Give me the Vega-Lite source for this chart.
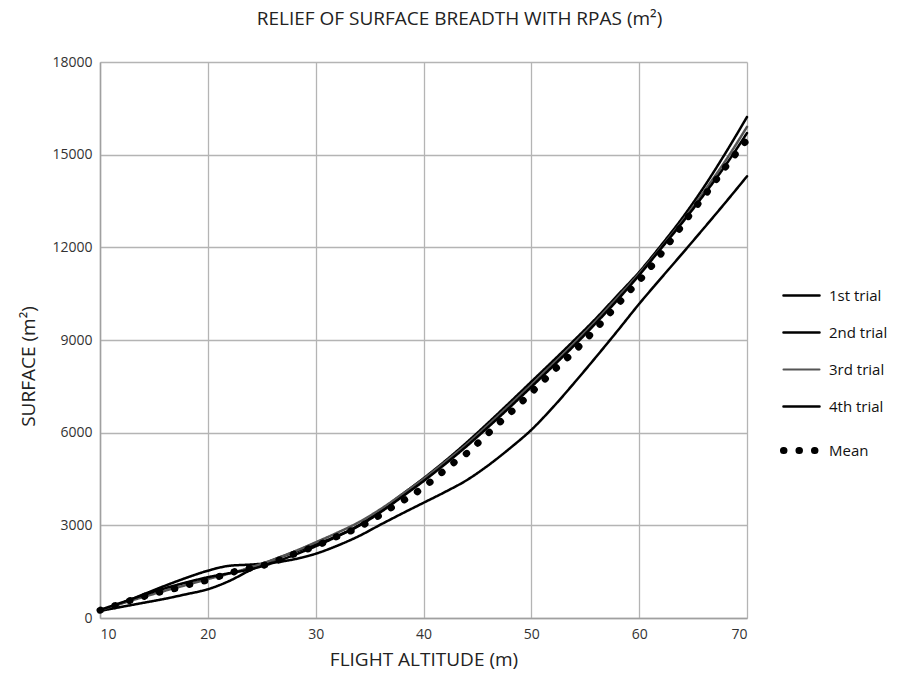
{
  "$schema": "https://vega.github.io/schema/vega-lite/v6.json",
  "width": 647,
  "height": 556,
  "autosize": {"type": "none"},
  "padding": {"left": 100, "top": 62, "right": 155, "bottom": 64},
  "background": "white",
  "title": {
    "text": "RELIEF OF SURFACE BREADTH WITH RPAS (m²)",
    "font": "Open Sans",
    "fontSize": 19,
    "fontWeight": "normal",
    "color": "#222",
    "anchor": "middle",
    "dx": 36,
    "offset": 26
  },
  "config": {
    "view": {"stroke": null},
    "axis": {
      "domainColor": "#a0a0a0",
      "domainWidth": 1.5,
      "gridColor": "#b4b4b4",
      "gridWidth": 1.3,
      "ticks": false,
      "labelFont": "Open Sans",
      "labelFontSize": 14,
      "labelColor": "#333",
      "titleFont": "Open Sans",
      "titleFontSize": 19,
      "titleFontWeight": "normal",
      "titleColor": "#222"
    }
  },
  "datasets": {
    "trials": [
      {"x": 10, "value": 250, "series": "1st trial"},
      {"x": 12, "value": 480, "series": "1st trial"},
      {"x": 14, "value": 760, "series": "1st trial"},
      {"x": 16, "value": 1040, "series": "1st trial"},
      {"x": 18, "value": 1300, "series": "1st trial"},
      {"x": 20, "value": 1530, "series": "1st trial"},
      {"x": 22, "value": 1690, "series": "1st trial"},
      {"x": 24, "value": 1730, "series": "1st trial"},
      {"x": 26, "value": 1790, "series": "1st trial"},
      {"x": 28, "value": 1900, "series": "1st trial"},
      {"x": 30, "value": 2080, "series": "1st trial"},
      {"x": 32, "value": 2340, "series": "1st trial"},
      {"x": 34, "value": 2650, "series": "1st trial"},
      {"x": 36, "value": 3020, "series": "1st trial"},
      {"x": 38, "value": 3380, "series": "1st trial"},
      {"x": 40, "value": 3730, "series": "1st trial"},
      {"x": 42, "value": 4080, "series": "1st trial"},
      {"x": 44, "value": 4460, "series": "1st trial"},
      {"x": 46, "value": 4940, "series": "1st trial"},
      {"x": 48, "value": 5490, "series": "1st trial"},
      {"x": 50, "value": 6090, "series": "1st trial"},
      {"x": 52, "value": 6820, "series": "1st trial"},
      {"x": 54, "value": 7620, "series": "1st trial"},
      {"x": 56, "value": 8450, "series": "1st trial"},
      {"x": 58, "value": 9300, "series": "1st trial"},
      {"x": 60, "value": 10170, "series": "1st trial"},
      {"x": 62, "value": 10990, "series": "1st trial"},
      {"x": 64, "value": 11800, "series": "1st trial"},
      {"x": 66, "value": 12620, "series": "1st trial"},
      {"x": 68, "value": 13450, "series": "1st trial"},
      {"x": 70, "value": 14300, "series": "1st trial"},

      {"x": 10, "value": 230, "series": "2nd trial"},
      {"x": 12, "value": 360, "series": "2nd trial"},
      {"x": 14, "value": 490, "series": "2nd trial"},
      {"x": 16, "value": 620, "series": "2nd trial"},
      {"x": 18, "value": 770, "series": "2nd trial"},
      {"x": 20, "value": 930, "series": "2nd trial"},
      {"x": 22, "value": 1200, "series": "2nd trial"},
      {"x": 24, "value": 1560, "series": "2nd trial"},
      {"x": 26, "value": 1870, "series": "2nd trial"},
      {"x": 28, "value": 2130, "series": "2nd trial"},
      {"x": 30, "value": 2380, "series": "2nd trial"},
      {"x": 32, "value": 2660, "series": "2nd trial"},
      {"x": 34, "value": 3000, "series": "2nd trial"},
      {"x": 36, "value": 3480, "series": "2nd trial"},
      {"x": 38, "value": 4000, "series": "2nd trial"},
      {"x": 40, "value": 4520, "series": "2nd trial"},
      {"x": 42, "value": 5080, "series": "2nd trial"},
      {"x": 44, "value": 5680, "series": "2nd trial"},
      {"x": 46, "value": 6320, "series": "2nd trial"},
      {"x": 48, "value": 6980, "series": "2nd trial"},
      {"x": 50, "value": 7650, "series": "2nd trial"},
      {"x": 52, "value": 8320, "series": "2nd trial"},
      {"x": 54, "value": 9000, "series": "2nd trial"},
      {"x": 56, "value": 9700, "series": "2nd trial"},
      {"x": 58, "value": 10450, "series": "2nd trial"},
      {"x": 60, "value": 11200, "series": "2nd trial"},
      {"x": 62, "value": 12050, "series": "2nd trial"},
      {"x": 64, "value": 12950, "series": "2nd trial"},
      {"x": 66, "value": 13950, "series": "2nd trial"},
      {"x": 68, "value": 15050, "series": "2nd trial"},
      {"x": 70, "value": 16220, "series": "2nd trial"},

      {"x": 10, "value": 260, "series": "3rd trial"},
      {"x": 12, "value": 470, "series": "3rd trial"},
      {"x": 14, "value": 680, "series": "3rd trial"},
      {"x": 16, "value": 880, "series": "3rd trial"},
      {"x": 18, "value": 1070, "series": "3rd trial"},
      {"x": 20, "value": 1260, "series": "3rd trial"},
      {"x": 22, "value": 1440, "series": "3rd trial"},
      {"x": 24, "value": 1640, "series": "3rd trial"},
      {"x": 26, "value": 1880, "series": "3rd trial"},
      {"x": 28, "value": 2150, "series": "3rd trial"},
      {"x": 30, "value": 2450, "series": "3rd trial"},
      {"x": 32, "value": 2760, "series": "3rd trial"},
      {"x": 34, "value": 3100, "series": "3rd trial"},
      {"x": 36, "value": 3520, "series": "3rd trial"},
      {"x": 38, "value": 4000, "series": "3rd trial"},
      {"x": 40, "value": 4500, "series": "3rd trial"},
      {"x": 42, "value": 5050, "series": "3rd trial"},
      {"x": 44, "value": 5620, "series": "3rd trial"},
      {"x": 46, "value": 6250, "series": "3rd trial"},
      {"x": 48, "value": 6900, "series": "3rd trial"},
      {"x": 50, "value": 7550, "series": "3rd trial"},
      {"x": 52, "value": 8220, "series": "3rd trial"},
      {"x": 54, "value": 8900, "series": "3rd trial"},
      {"x": 56, "value": 9620, "series": "3rd trial"},
      {"x": 58, "value": 10380, "series": "3rd trial"},
      {"x": 60, "value": 11150, "series": "3rd trial"},
      {"x": 62, "value": 11980, "series": "3rd trial"},
      {"x": 64, "value": 12850, "series": "3rd trial"},
      {"x": 66, "value": 13800, "series": "3rd trial"},
      {"x": 68, "value": 14800, "series": "3rd trial"},
      {"x": 70, "value": 15900, "series": "3rd trial"},

      {"x": 10, "value": 260, "series": "4th trial"},
      {"x": 12, "value": 500, "series": "4th trial"},
      {"x": 14, "value": 740, "series": "4th trial"},
      {"x": 16, "value": 960, "series": "4th trial"},
      {"x": 18, "value": 1150, "series": "4th trial"},
      {"x": 20, "value": 1320, "series": "4th trial"},
      {"x": 22, "value": 1450, "series": "4th trial"},
      {"x": 24, "value": 1580, "series": "4th trial"},
      {"x": 26, "value": 1780, "series": "4th trial"},
      {"x": 28, "value": 2040, "series": "4th trial"},
      {"x": 30, "value": 2320, "series": "4th trial"},
      {"x": 32, "value": 2640, "series": "4th trial"},
      {"x": 34, "value": 2980, "series": "4th trial"},
      {"x": 36, "value": 3420, "series": "4th trial"},
      {"x": 38, "value": 3920, "series": "4th trial"},
      {"x": 40, "value": 4430, "series": "4th trial"},
      {"x": 42, "value": 4980, "series": "4th trial"},
      {"x": 44, "value": 5560, "series": "4th trial"},
      {"x": 46, "value": 6180, "series": "4th trial"},
      {"x": 48, "value": 6820, "series": "4th trial"},
      {"x": 50, "value": 7480, "series": "4th trial"},
      {"x": 52, "value": 8150, "series": "4th trial"},
      {"x": 54, "value": 8830, "series": "4th trial"},
      {"x": 56, "value": 9550, "series": "4th trial"},
      {"x": 58, "value": 10300, "series": "4th trial"},
      {"x": 60, "value": 11100, "series": "4th trial"},
      {"x": 62, "value": 11950, "series": "4th trial"},
      {"x": 64, "value": 12800, "series": "4th trial"},
      {"x": 66, "value": 13700, "series": "4th trial"},
      {"x": 68, "value": 14650, "series": "4th trial"},
      {"x": 70, "value": 15700, "series": "4th trial"}
    ],
    "mean": [
      {"x": 10, "value": 250, "series": "Mean"},
      {"x": 11, "value": 360, "series": "Mean"},
      {"x": 12, "value": 470, "series": "Mean"},
      {"x": 13, "value": 590, "series": "Mean"},
      {"x": 14, "value": 690, "series": "Mean"},
      {"x": 15, "value": 790, "series": "Mean"},
      {"x": 16, "value": 880, "series": "Mean"},
      {"x": 17, "value": 960, "series": "Mean"},
      {"x": 18, "value": 1060, "series": "Mean"},
      {"x": 19, "value": 1150, "series": "Mean"},
      {"x": 20, "value": 1230, "series": "Mean"},
      {"x": 21, "value": 1340, "series": "Mean"},
      {"x": 22, "value": 1450, "series": "Mean"},
      {"x": 23, "value": 1550, "series": "Mean"},
      {"x": 24, "value": 1620, "series": "Mean"},
      {"x": 25, "value": 1690, "series": "Mean"},
      {"x": 26, "value": 1800, "series": "Mean"},
      {"x": 27, "value": 1930, "series": "Mean"},
      {"x": 28, "value": 2070, "series": "Mean"},
      {"x": 29, "value": 2200, "series": "Mean"},
      {"x": 30, "value": 2320, "series": "Mean"},
      {"x": 31, "value": 2480, "series": "Mean"},
      {"x": 32, "value": 2640, "series": "Mean"},
      {"x": 33, "value": 2780, "series": "Mean"},
      {"x": 34, "value": 2940, "series": "Mean"},
      {"x": 35, "value": 3130, "series": "Mean"},
      {"x": 36, "value": 3340, "series": "Mean"},
      {"x": 37, "value": 3570, "series": "Mean"},
      {"x": 38, "value": 3780, "series": "Mean"},
      {"x": 39, "value": 3970, "series": "Mean"},
      {"x": 40, "value": 4250, "series": "Mean"},
      {"x": 41, "value": 4500, "series": "Mean"},
      {"x": 42, "value": 4800, "series": "Mean"},
      {"x": 43, "value": 5080, "series": "Mean"},
      {"x": 44, "value": 5330, "series": "Mean"},
      {"x": 45, "value": 5650, "series": "Mean"},
      {"x": 46, "value": 5980, "series": "Mean"},
      {"x": 47, "value": 6310, "series": "Mean"},
      {"x": 48, "value": 6630, "series": "Mean"},
      {"x": 49, "value": 6960, "series": "Mean"},
      {"x": 50, "value": 7300, "series": "Mean"},
      {"x": 51, "value": 7640, "series": "Mean"},
      {"x": 52, "value": 7990, "series": "Mean"},
      {"x": 53, "value": 8310, "series": "Mean"},
      {"x": 54, "value": 8640, "series": "Mean"},
      {"x": 55, "value": 9000, "series": "Mean"},
      {"x": 56, "value": 9370, "series": "Mean"},
      {"x": 57, "value": 9760, "series": "Mean"},
      {"x": 58, "value": 10150, "series": "Mean"},
      {"x": 59, "value": 10550, "series": "Mean"},
      {"x": 60, "value": 10920, "series": "Mean"},
      {"x": 61, "value": 11330, "series": "Mean"},
      {"x": 62, "value": 11780, "series": "Mean"},
      {"x": 63, "value": 12250, "series": "Mean"},
      {"x": 64, "value": 12720, "series": "Mean"},
      {"x": 65, "value": 13200, "series": "Mean"},
      {"x": 66, "value": 13650, "series": "Mean"},
      {"x": 67, "value": 14120, "series": "Mean"},
      {"x": 68, "value": 14600, "series": "Mean"},
      {"x": 69, "value": 15050, "series": "Mean"},
      {"x": 70, "value": 15480, "series": "Mean"}
    ]
  },
  "encoding": {
    "x": {
      "field": "x",
      "type": "quantitative",
      "scale": {"domain": [10, 70], "nice": false, "zero": false},
      "axis": {"values": [10, 20, 30, 40, 50, 60, 70], "title": "FLIGHT ALTITUDE (m)", "labelPadding": 9, "titlePadding": 9}
    },
    "y": {
      "field": "value",
      "type": "quantitative",
      "scale": {"domain": [0, 18000], "nice": false},
      "axis": {"values": [0, 3000, 6000, 9000, 12000, 15000, 18000], "format": "d", "title": "SURFACE (m²)", "labelPadding": 8, "titlePadding": 13, "titleY": 304}
    },
    "color": {
      "field": "series",
      "type": "nominal",
      "scale": {"domain": ["1st trial", "2nd trial", "3rd trial", "4th trial", "Mean"], "range": ["#000000", "#000000", "#555555", "#000000", "#000000"]},
      "legend": {
        "title": null,
        "orient": "none",
        "legendX": 694,
        "legendY": 226,
        "symbolType": "stroke",
        "symbolSize": 1300,
        "symbolStrokeWidth": 7,
        "labelFont": "Open Sans",
        "labelFontSize": 15,
        "labelColor": "#111",
        "labelOffset": 20,
        "rowPadding": 21,
        "encode": {"symbols": {"update": {
          "strokeCap": {"value": "round"},
          "strokeWidth": {"signal": "datum.value === 'Mean' ? 7 : (datum.value === '3rd trial' ? 2 : 2.5)"}
        }}}
      }
    },
    "strokeDash": {
      "field": "series",
      "type": "nominal",
      "scale": {"domain": ["1st trial", "2nd trial", "3rd trial", "4th trial", "Mean"], "range": [[1, 0], [1, 0], [1, 0], [1, 0], [0.5, 15]]}
    }
  },
  "layer": [
    {
      "data": {"name": "trials"},
      "mark": {"type": "line", "interpolate": "monotone", "strokeWidth": 2.5, "strokeCap": "round", "strokeJoin": "round", "clip": false}
    },
    {
      "data": {"name": "mean"},
      "mark": {"type": "line", "interpolate": "monotone", "strokeWidth": 7, "strokeCap": "round", "strokeJoin": "round", "clip": false}
    }
  ]
}
